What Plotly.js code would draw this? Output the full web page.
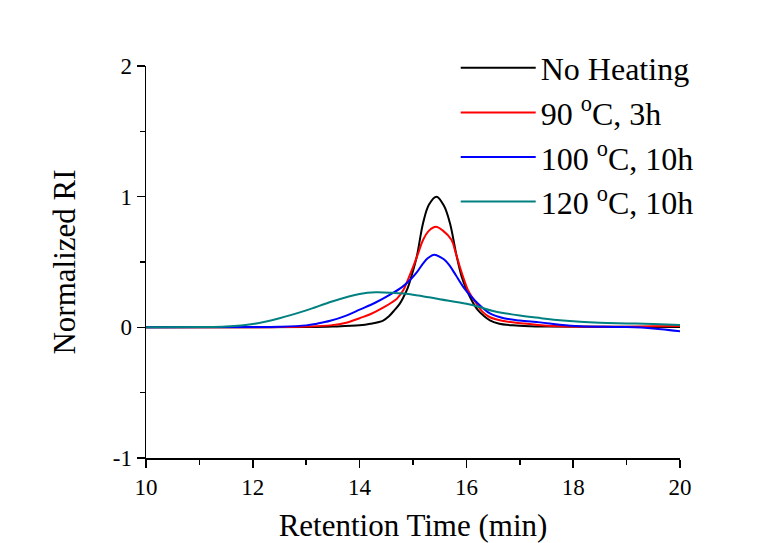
<!DOCTYPE html>
<html>
<head>
<meta charset="utf-8">
<script src="https://cdn.plot.ly/plotly-3.0.1.min.js"></script>
<style>
html,body{margin:0;padding:0;background:#fff;}
#chart{width:777px;height:543px;}
</style>
</head>
<body>
<div id="chart"></div>
<script>
const seriesNames = ["No Heating", "90 <sup>o</sup>C, 3h", "100 <sup>o</sup>C, 10h", "120 <sup>o</sup>C, 10h"];
const seriesColors = ["#000000", "#ff0000", "#0000ff", "#008080"];

const xNoHeat = [10, 12, 13, 13.5, 14, 14.2, 14.44, 14.55, 14.65, 14.75, 14.82, 14.9, 14.97, 15.07, 15.19, 15.3, 15.44, 15.58, 15.69, 15.82, 15.91, 16.0, 16.07, 16.15, 16.22, 16.32, 16.44, 16.6, 16.87, 17.2, 17.5, 18.5, 20];
const yNoHeat = [0, 0.001, 0.002, 0.006, 0.015, 0.027, 0.052, 0.085, 0.13, 0.18, 0.23, 0.3, 0.39, 0.54, 0.80, 0.94, 1.0, 0.93, 0.80, 0.54, 0.39, 0.29, 0.23, 0.17, 0.13, 0.09, 0.054, 0.03, 0.015, 0.008, 0.006, 0.004, 0.003];

const x90 = [10, 12, 12.5, 13, 13.45, 13.75, 14, 14.2, 14.44, 14.6, 14.7, 14.82, 14.9, 15.0, 15.1, 15.19, 15.3, 15.43, 15.56, 15.72, 15.8, 15.88, 15.96, 16.03, 16.19, 16.3, 16.44, 16.7, 17.06, 17.4, 17.75, 18.5, 19, 19.5, 20];
const y90 = [0, 0.001, 0.002, 0.006, 0.015, 0.035, 0.07, 0.1, 0.15, 0.19, 0.22, 0.285, 0.36, 0.46, 0.57, 0.67, 0.74, 0.77, 0.74, 0.67, 0.57, 0.46, 0.36, 0.285, 0.18, 0.12, 0.077, 0.048, 0.03, 0.016, 0.008, 0.005, 0.005, 0.008, 0.01];

const x100 = [10, 12, 12.5, 13, 13.2, 13.45, 13.75, 14, 14.3, 14.57, 14.8, 14.94, 15.07, 15.19, 15.28, 15.4, 15.52, 15.61, 15.69, 15.8, 15.94, 16.08, 16.22, 16.44, 16.7, 17, 17.38, 17.75, 18.13, 18.6, 19, 19.5, 20];
const y100 = [0, 0.002, 0.005, 0.015, 0.028, 0.05, 0.09, 0.135, 0.19, 0.25, 0.31, 0.36, 0.42, 0.49, 0.53, 0.556, 0.535, 0.51, 0.47, 0.4, 0.31, 0.24, 0.18, 0.107, 0.07, 0.052, 0.038, 0.02, 0.008, 0.004, 0.002, -0.008, -0.03];

const x120 = [10, 11, 11.5, 12, 12.5, 13, 13.5, 14, 14.3, 14.6, 15, 15.5, 16, 16.25, 16.5, 17, 17.4, 17.75, 18.13, 18.5, 19, 19.5, 20];
const y120 = [0, 0.002, 0.006, 0.025, 0.07, 0.13, 0.2, 0.255, 0.268, 0.264, 0.25, 0.215, 0.18, 0.155, 0.125, 0.09, 0.07, 0.054, 0.042, 0.035, 0.03, 0.025, 0.018];

const xTicks = [10, 12, 14, 16, 18, 20];
const xTickLabels = ["10", "12", "14", "16", "18", "20"];
const yTicks = [-1, 0, 1, 2];
const yTickLabels = ["-1", "0", "1", "2"];

const xs = [xNoHeat, x90, x100, x120];
const ys = [yNoHeat, y90, y100, y120];

const traces = xs.map((x, i) => ({
  x: x, y: ys[i], type: 'scatter', mode: 'lines', name: seriesNames[i],
  line: {color: seriesColors[i], width: 2, shape: 'spline', smoothing: 1}
}));
const font = 'Liberation Serif';
const layout = {
  width: 777, height: 543,
  margin: {l: 146, r: 97, t: 66, b: 85},
  paper_bgcolor: '#fff', plot_bgcolor: '#fff',
  font: {family: font, size: 23, color: '#000'},
  showlegend: true,
  legend: {x: 0.58, y: 1.065, xanchor: 'left', yanchor: 'top', font: {family: font, size: 32, color: '#000'},
           bgcolor: 'rgba(0,0,0,0)', itemwidth: 75},
  xaxis: {
    range: [10, 20], tickmode: 'array', tickvals: xTicks, ticktext: xTickLabels,
    showgrid: false, zeroline: false, showline: true, linecolor: '#000', linewidth: 1.5,
    ticks: 'outside', ticklen: 8, tickwidth: 1.5, tickcolor: '#000',
    minor: {tickmode: 'linear', dtick: 1, tick0: 10, ticks: 'outside', ticklen: 5, tickwidth: 1.5, tickcolor: '#000', showgrid: false},
    tickfont: {family: font, size: 23, color: '#000'},
    title: {text: 'Retention Time (min)', font: {family: font, size: 31, color: '#000'}, standoff: 18}
  },
  yaxis: {
    range: [-1, 2], tickmode: 'array', tickvals: yTicks, ticktext: yTickLabels,
    showgrid: false, zeroline: false, showline: true, linecolor: '#000', linewidth: 1.5,
    ticks: 'outside', ticklen: 8, tickwidth: 1.5, tickcolor: '#000',
    minor: {tickmode: 'linear', dtick: 0.5, tick0: 0, ticks: 'outside', ticklen: 5, tickwidth: 1.5, tickcolor: '#000', showgrid: false},
    tickfont: {family: font, size: 23, color: '#000'},
    title: {text: 'Normalized RI', font: {family: font, size: 31, color: '#000'}, standoff: 28}
  }
};
Plotly.newPlot('chart', traces, layout, {displayModeBar: false, staticPlot: true});
</script>
</body>
</html>
